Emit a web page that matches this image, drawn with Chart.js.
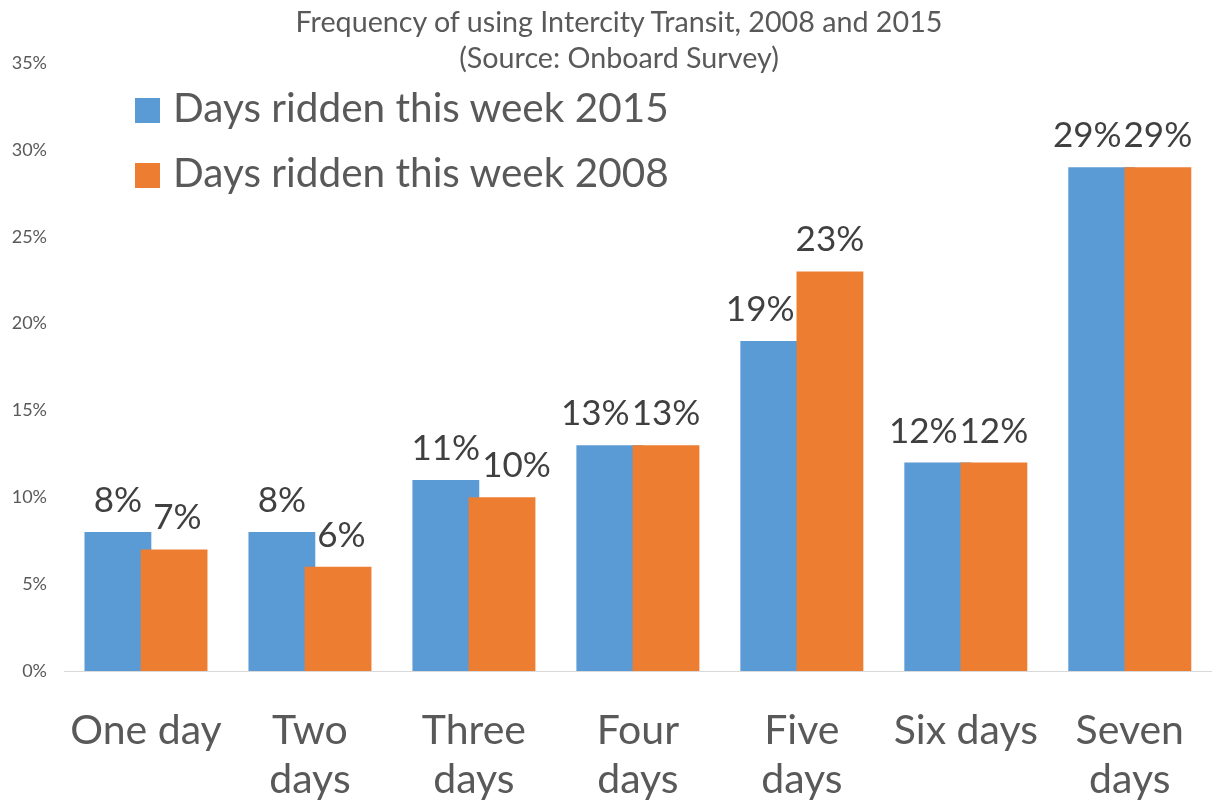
<!DOCTYPE html>
<html>
<head>
<meta charset="utf-8">
<script src="https://cdn.jsdelivr.net/npm/chart.js@4/dist/chart.umd.min.js"></script>
<style>
  html, body { margin: 0; padding: 0; background: #fff; overflow: hidden; }
  #wrap { position: relative; width: 1219px; height: 807px; }
  #title { position: absolute; left: 0; width: 1238px; top: 3px; text-align: center;
           font-family: Lato, sans-serif; font-size: 28.7px; line-height: 36px; color: #595959; }
  .leg { position: absolute; left: 135px; font-family: Lato, sans-serif; font-size: 40.5px;
         line-height: 48px; color: #595959; white-space: nowrap; }
  .leg span.sw { position: absolute; left: 0; width: 25px; height: 25px; }
  .leg span.tx { position: absolute; left: 38px; top: 0; }
</style>
</head>
<body>
<div id="wrap">
  <canvas id="c" width="1219" height="807"></canvas>
  <div id="title"></div>
  <div id="legend"></div>
</div>
<script>
const titleLines = ["Frequency of using Intercity Transit, 2008 and 2015", "(Source: Onboard Survey)"];
const categories = ["One day", ["Two", "days"], ["Three", "days"], ["Four", "days"], ["Five", "days"], "Six days", ["Seven", "days"]];
const seriesNames = ["Days ridden this week 2015", "Days ridden this week 2008"];
const values2015 = [8, 8, 11, 13, 19, 12, 29];
const values2008 = [7, 6, 10, 13, 23, 12, 29];
const yTicks = [0, 5, 10, 15, 20, 25, 30, 35];
const colors = ["#5B9BD5", "#ED7D31"];

document.getElementById('title').innerHTML = titleLines.join('<br>');
const legendEl = document.getElementById('legend');
seriesNames.forEach((name, i) => {
  const d = document.createElement('div');
  d.className = 'leg';
  d.style.top = (83 + i * 65) + 'px';
  d.innerHTML = '<span class="sw" style="background:' + colors[i] + ';top:15px"></span><span class="tx">' + name + '</span>';
  legendEl.appendChild(d);
});

const FONT = 'Lato, sans-serif';

// draw the 2008 series over the 2015 series (bars overlap slightly)
const orderPlugin = {
  id: 'orderPlugin',
  beforeDatasetDraw(chart, args) {
    if (args.index === 1 && !chart.$drawingSecond) return false;
  },
  afterDatasetsDraw(chart) {
    const meta = chart.getDatasetMeta(1);
    chart.$drawingSecond = true;
    meta.controller.draw();
    chart.$drawingSecond = false;
  }
};

// value labels above bars, nudged sideways so they do not collide with the neighbouring bar / label
const labelPlugin = {
  id: 'labelPlugin',
  afterDatasetsDraw(chart) {
    const ctx = chart.ctx;
    ctx.save();
    ctx.font = '35px ' + FONT;
    ctx.fillStyle = '#404040';
    ctx.textAlign = 'center';
    ctx.textBaseline = 'alphabetic';
    const m0 = chart.getDatasetMeta(0), m1 = chart.getDatasetMeta(1);
    const d0 = chart.data.datasets[0].data, d1 = chart.data.datasets[1].data;
    const gap = 2, textH = 26, desc = 4, lift = 20;
    m0.data.forEach((el0, i) => {
      const el1 = m1.data[i];
      const t0 = d0[i] + '%', t1 = d1[i] + '%';
      const w0 = ctx.measureText(t0).width, w1 = ctx.measureText(t1).width;
      let x0 = el0.x, x1 = el1.x;
      const y0 = el0.y - lift, y1 = el1.y - lift;
      // avoid the other series' bar
      const left1 = el1.x - el1.width / 2, right0 = el0.x + el0.width / 2;
      if (el1.y < y0 + desc && x0 + w0 / 2 + gap > left1) x0 = left1 - gap - w0 / 2;
      if (el0.y < y1 + desc && x1 - w1 / 2 - gap < right0) x1 = right0 + gap + w1 / 2;
      // avoid the other label
      const overlap = (x0 + w0 / 2 + gap) - (x1 - w1 / 2);
      if (overlap > 0 && Math.abs(y0 - y1) < textH) {
        if (d1[i] < d0[i]) x1 += overlap;
        else x0 -= overlap;
      }
      ctx.fillText(t0, x0, y0);
      ctx.fillText(t1, x1, y1);
    });
    ctx.restore();
  }
};

new Chart(document.getElementById('c'), {
  type: 'bar',
  data: {
    labels: categories,
    datasets: [
      { label: seriesNames[0], data: values2015, backgroundColor: colors[0] },
      { label: seriesNames[1], data: values2008, backgroundColor: colors[1] }
    ]
  },
  options: {
    responsive: false,
    animation: false,
    categoryPercentage: 0.685,
    barPercentage: 1.19,
    layout: { padding: { top: 63, left: 0, right: 0, bottom: 0 } },
    plugins: { legend: { display: false }, title: { display: false }, tooltip: { enabled: false } },
    scales: {
      x: {
        afterFit(scale) { scale.height = 136; },
        grid: { display: false, drawTicks: false },
        border: { display: true, color: '#D9D9D9', width: 1 },
        ticks: { font: { family: FONT, size: 41, lineHeight: 1.2 }, color: '#595959', padding: 35, maxRotation: 0, autoSkip: false }
      },
      y: {
        min: 0, max: 35,
        afterBuildTicks(scale) { scale.ticks = yTicks.map(v => ({ value: v })); },
        afterFit(scale) { scale.width = 64; },
        grid: { display: false, drawTicks: false },
        border: { display: false },
        ticks: { font: { family: FONT, size: 18 }, color: '#595959', padding: 17, callback: v => v + '%' }
      }
    }
  },
  plugins: [orderPlugin, labelPlugin]
});
</script>
</body>
</html>
